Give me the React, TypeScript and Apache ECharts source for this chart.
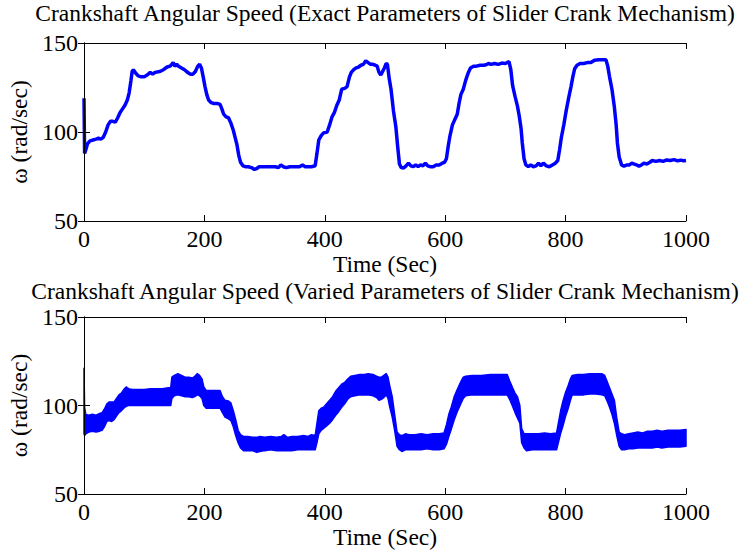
import React, { useEffect, useRef } from "react";
import * as echarts from "echarts";

// ---- Top plot: exact parameters (time, omega) ----
const exactTime = [0, 1, 3, 6, 10, 15, 20, 24, 28, 32, 36, 40, 44, 48, 52, 56, 60, 64, 68, 72, 75, 78, 80, 82, 86, 90, 95, 100, 105, 110, 114, 118, 126, 132, 138, 143, 146, 148, 151, 154, 157, 162, 167, 172, 177, 181, 185, 189, 192, 195, 198, 201, 204, 207, 211, 216, 222, 226, 229, 232, 236, 240, 244, 248, 251, 254, 257, 260, 264, 268, 273, 278, 283, 287, 291, 296, 302, 310, 318, 323, 327, 331, 336, 342, 350, 358, 363, 367, 372, 378, 384, 387, 390, 394, 398, 404, 408, 412, 416, 420, 424, 428, 433, 437, 441, 444, 448, 452, 456, 460, 464, 468, 472, 476, 480, 484, 487, 490, 493, 496, 499, 502, 504, 507, 510, 514, 518, 521, 524, 527, 531, 535, 539, 543, 547, 551, 555, 559, 563, 567, 571, 575, 580, 585, 590, 595, 599, 602, 605, 608, 612, 616, 620, 623, 626, 630, 634, 638, 642, 647, 652, 658, 664, 668, 672, 676, 682, 688, 694, 700, 706, 709, 712, 716, 720, 723, 726, 728, 731, 734, 738, 742, 746, 751, 755, 759, 763, 768, 773, 778, 783, 787, 790, 793, 797, 801, 805, 809, 812, 815, 819, 824, 830, 836, 842, 848, 855, 862, 867, 870, 873, 877, 881, 884, 886, 889, 893, 897, 902, 906, 910, 914, 918, 922, 926, 930, 935, 940, 944, 950, 956, 962, 968, 974, 980, 986, 992, 996, 1000];
const exactOmega = [119, 88, 90, 93.5, 95, 95.5, 96, 96.5, 96, 97, 100, 104, 106, 106, 105.5, 108, 111, 113, 115, 118, 122, 129, 134, 135, 133, 131.5, 131, 131, 132, 133.5, 132.5, 133.5, 134, 135, 136.5, 137, 138, 139, 137, 138, 137, 136, 135, 133.5, 132.5, 132.5, 134, 137, 138, 136, 131, 125.5, 121, 118, 116.5, 116, 116, 115.5, 113, 110, 108.5, 108, 105, 101, 97, 93, 87, 83, 81, 80.5, 80.5, 80, 79, 79.5, 80.5, 80.5, 80.5, 80.5, 80.5, 80, 81.5, 80.5, 80, 80.5, 80.5, 80.5, 81.5, 80.5, 80.5, 80.5, 81, 88, 95.5, 98, 99.5, 100, 104, 108.5, 111, 115, 118, 124, 124.5, 125.5, 131, 133.5, 135, 136, 136.5, 137.5, 138, 140, 139, 138, 138, 137.5, 137, 133.5, 132, 134, 136, 138.5, 138, 130, 124, 112, 103, 92, 82, 80, 79.8, 81, 82.5, 81, 80.5, 81.5, 80.5, 81.5, 81, 82.5, 81, 80.5, 80.5, 81.5, 81.5, 82.5, 83, 85, 92, 98, 104, 107, 110, 116, 121, 124, 129, 133, 136, 137, 137, 137.5, 137.5, 137.8, 138.5, 138, 138.5, 138, 138.7, 138.5, 139.5, 135, 126, 120, 114.5, 109, 102, 94, 85, 81.5, 80.5, 81.5, 80.5, 81, 82.5, 81, 82.5, 81, 80.5, 81.5, 82.5, 84, 90, 97, 104, 112, 119, 125.5, 131, 135.5, 137.5, 138.5, 138.5, 139, 139, 140.3, 140.6, 140.6, 140.6, 137, 131, 124, 114, 104, 94, 86, 81.5, 80.8, 81.5, 81.5, 82.5, 82, 81.5, 80.8, 81.5, 82.5, 82, 83, 84, 83.5, 84, 83.5, 84.3, 84, 84.5, 83.8, 84.2, 83.8, 84];

// ---- Bottom plot: varied parameters (time, band low, band high) ----
const variedTime = [0, 1, 3, 8, 14, 20, 26, 30, 34, 38, 42, 46, 50, 54, 58, 62, 66, 70, 74, 80, 90, 100, 110, 120, 130, 140, 144, 146, 150, 156, 162, 168, 174, 180, 184, 188, 192, 196, 199, 203, 210, 218, 226, 230, 234, 240, 244, 248, 252, 256, 260, 265, 272, 280, 287, 292, 300, 310, 320, 328, 332, 338, 345, 355, 365, 372, 378, 384, 387, 390, 394, 398, 403, 408, 413, 418, 423, 428, 433, 438, 443, 450, 458, 466, 472, 480, 486, 490, 494, 498, 502, 505, 508, 512, 516, 520, 524, 528, 534, 540, 550, 560, 570, 580, 590, 598, 602, 606, 610, 615, 620, 626, 630, 634, 645, 660, 675, 690, 703, 707, 712, 716, 720, 724, 727, 731, 735, 745, 755, 765, 775, 785, 788, 792, 796, 800, 804, 808, 811, 820, 830, 840, 850, 860, 865, 869, 873, 877, 881, 885, 889, 893, 898, 905, 912, 920, 928, 936, 944, 952, 960, 970, 980, 990, 1000];
const variedLow = [84, 83, 84, 85, 85.5, 85, 85.5, 86, 88, 91, 91.5, 91, 92, 94, 96, 97, 98.5, 99.5, 100, 100, 100, 100, 100, 100, 100, 100, 100, 104, 105.5, 106, 105.5, 105, 105, 104.5, 105, 106, 105.5, 104, 100, 98.5, 98.5, 98.5, 98.5, 96, 93.5, 92.5, 91.5, 88, 83, 79, 76, 74.5, 74.5, 74.5, 73.5, 74, 74.5, 75, 74.5, 74.5, 74.5, 74.5, 74.5, 75, 75, 75, 75, 75, 79, 84, 86, 87, 88.5, 90, 92, 94.5, 96.5, 99, 101, 103.5, 105, 105.5, 106, 106, 106, 105.5, 104.5, 103, 103.5, 104.5, 106, 104, 99, 93.5, 86, 77, 75, 74, 75, 75, 75, 75, 75.5, 75, 75, 75.5, 78, 82.5, 86.5, 92, 96.5, 101, 104, 105.5, 106, 106, 106, 106, 106, 103.5, 99.5, 96, 93, 90, 79, 76, 74.5, 75, 75, 75, 75, 75, 79, 84.5, 89, 94, 98, 103, 106, 106, 106, 106.5, 106.5, 106, 105.5, 102.5, 99, 95, 90, 83, 77, 75, 75, 75.5, 75.5, 76, 76, 76, 76, 76.5, 76, 76.5, 76.5, 76.5, 77];
const variedHigh = [121, 99, 95, 94.5, 95, 94.5, 95.5, 96, 98, 101, 102, 102, 102, 104, 106, 107, 109, 110.5, 109.5, 109, 109, 109, 109.5, 109.5, 109.5, 110, 110, 116, 117, 118, 117, 116, 116, 115.5, 116.5, 118, 117, 115, 110.5, 108.5, 108.5, 108.5, 108.5, 105, 103, 102.5, 101.5, 97, 92, 86, 83.5, 82.5, 82.5, 82, 82, 82.5, 82, 82.5, 82, 82.5, 83.5, 82, 82.5, 82.5, 83, 82.5, 83.5, 83, 90, 97, 98.5, 99, 101, 103, 105, 108, 110, 112, 113, 115, 116.5, 117, 117.5, 117.5, 118, 117.5, 116.5, 116, 116, 117, 118, 116, 111, 105, 95, 85, 83.5, 83, 84, 83.5, 83.5, 84, 83.5, 84, 84, 84.5, 89, 95, 99, 105, 109, 113.5, 116, 116.5, 117, 117, 117.5, 117.5, 117.5, 114, 110, 107, 105, 100, 87, 84, 84, 84, 84, 84.5, 84, 84.5, 90, 97.5, 103, 107.5, 111, 115, 117, 117.5, 117.5, 118, 118, 118, 117, 113.5, 110, 106.5, 103, 93, 85, 84, 83.5, 84, 84.5, 85, 84.5, 85.5, 85.5, 86, 85.5, 86, 86, 86, 86.5];

const xTicks = [0, 200, 400, 600, 800, 1000];
const yTicks = [50, 100, 150];

const TITLE_TOP = "Crankshaft Angular Speed (Exact Parameters of Slider Crank Mechanism)";
const TITLE_BOTTOM = "Crankshaft Angular Speed (Varied Parameters of Slider Crank Mechanism)";
const X_NAME = "Time (Sec)";
const Y_NAME = "ω (rad/sec)";

const FONT = "'Liberation Serif', 'DejaVu Serif', serif";
const BLUE = "#0000ff";

export default function App() {
  const ref = useRef<HTMLDivElement>(null);
  useEffect(() => {
    if (!ref.current) return;
    const chart = echarts.init(ref.current, undefined, { renderer: "svg" });
    const grids = [
      { left: 84, top: 43, width: 602, height: 178, outerBoundsMode: "none", containLabel: false },
      { left: 84, top: 317, width: 602, height: 177, outerBoundsMode: "none", containLabel: false },
    ];
    const xMin = xTicks[0];
    const xMax = xTicks[xTicks.length - 1];
    const xInt = xTicks[1] - xTicks[0];
    const yMin = yTicks[0];
    const yMax = yTicks[yTicks.length - 1];
    const yInt = yTicks[1] - yTicks[0];
    const line = { show: true, lineStyle: { color: "#000", width: 1 } };
    const tick = { show: true, inside: true, length: 6, lineStyle: { color: "#000", width: 1 } };
    const label = { fontFamily: FONT, fontSize: 24, color: "#000", formatter: (v: number) => String(v) };
    const nameStyle = { fontFamily: FONT, fontSize: 23.5, color: "#000" };
    const xAxes: any[] = [];
    const yAxes: any[] = [];
    [0, 1].forEach((g) => {
      xAxes.push({
        type: "value", gridIndex: g, min: xMin, max: xMax, interval: xInt, position: "bottom", z: 5,
        axisLine: line, axisTick: tick, splitLine: { show: false },
        axisLabel: { ...label, margin: 6 },
        name: X_NAME, nameLocation: "middle", nameGap: 29, nameTextStyle: nameStyle,
      });
      xAxes.push({
        type: "value", gridIndex: g, min: xMin, max: xMax, interval: xInt, position: "top", z: 5,
        axisLine: line, axisTick: tick, splitLine: { show: false }, axisLabel: { show: false },
      });
      yAxes.push({
        type: "value", gridIndex: g, min: yMin, max: yMax, interval: yInt, position: "left", z: 5,
        axisLine: line, axisTick: tick, splitLine: { show: false },
        axisLabel: { ...label, margin: 6 },
        name: Y_NAME, nameLocation: "middle", nameGap: 53, nameTextStyle: nameStyle,
      });
      yAxes.push({
        type: "value", gridIndex: g, min: yMin, max: yMax, interval: yInt, position: "right", z: 5,
        axisLine: line, axisTick: tick, splitLine: { show: false }, axisLabel: { show: false },
      });
    });

    const topData = exactTime.map((t, i) => [t, exactOmega[i]]);

    chart.setOption({
      animation: false,
      backgroundColor: "#fff",
      grid: grids,
      xAxis: xAxes,
      yAxis: yAxes,
      graphic: [
        { type: "text", x: 385, y: 13, style: { text: TITLE_TOP, font: `23.5px ${FONT}`, fill: "#000", textAlign: "center", textVerticalAlign: "middle" } },
        { type: "text", x: 385, y: 291, style: { text: TITLE_BOTTOM, font: `23.5px ${FONT}`, fill: "#000", textAlign: "center", textVerticalAlign: "middle" } },
      ],
      series: [
        {
          type: "line", xAxisIndex: 0, yAxisIndex: 0, data: topData, symbol: "none",
          lineStyle: { color: BLUE, width: 3.5 }, itemStyle: { color: BLUE },
        },
        {
          type: "custom", xAxisIndex: 2, yAxisIndex: 2, coordinateSystem: "cartesian2d",
          data: [[variedTime[0], variedLow[0]]],
          renderItem: (_params: any, api: any) => {
            const pts: number[][] = [];
            for (let i = 0; i < variedTime.length; i++) pts.push(api.coord([variedTime[i], variedHigh[i]]));
            for (let i = variedTime.length - 1; i >= 0; i--) pts.push(api.coord([variedTime[i], variedLow[i]]));
            return {
              type: "polygon",
              shape: { points: pts },
              style: { fill: BLUE, stroke: BLUE, lineWidth: 1.5, lineJoin: "round" },
            };
          },
        },
      ],
    });
    return () => chart.dispose();
  }, []);
  return (
    <div
      ref={ref}
      style={{ position: "fixed", left: 0, top: 0, width: 743, height: 552, background: "#fff" }}
    />
  );
}
